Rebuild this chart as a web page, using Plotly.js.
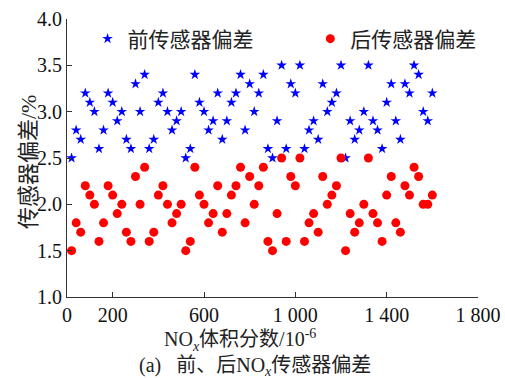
<!DOCTYPE html>
<html>
<head>
<meta charset="utf-8">
<script src="https://cdn.plot.ly/plotly-3.0.1.min.js"></script>
<style>html,body{margin:0;padding:0;background:#fff;}#chart{width:505px;height:378px;}</style>
</head>
<body>
<div id="chart"></div>
<script>
// NOx volume fraction (10^-6)
const noxFraction = [20,40,60,80,100,120,140,160,180,200,220,240,260,280,300,320,340,360,380,400,
  420,440,460,480,500,520,540,560,580,600,620,640,660,680,700,720,740,760,780,800,
  820,840,860,880,900,920,940,960,980,1000,1020,1040,1060,1080,1100,1120,1140,1160,1180,1200,
  1220,1240,1260,1280,1300,1320,1340,1360,1380,1400,1420,1440,1460,1480,1500,1520,1540,1560,1580,1600];
// 前传感器偏差 (%)
const frontBias = [2.5,2.8,2.7,3.2,3.1,3.0,2.6,2.8,3.2,3.1,2.9,3.0,2.7,2.6,3.3,3.0,3.4,2.6,2.7,3.1,
  3.2,3.0,2.8,2.9,3.0,2.5,2.6,3.4,3.1,3.0,2.8,2.9,3.2,2.7,2.9,3.1,3.2,3.4,2.8,3.3,
  3.0,3.2,3.4,2.6,2.5,2.9,3.5,2.6,3.3,3.2,3.5,2.6,2.8,2.9,2.7,3.3,3.0,3.1,3.2,3.5,
  2.5,2.9,2.7,2.8,3.0,3.5,2.9,2.8,2.6,3.1,3.3,2.9,2.7,3.3,3.2,3.5,3.4,3.0,2.9,3.2];
// 后传感器偏差 (%)
const rearBias = [1.5,1.8,1.7,2.2,2.1,2.0,1.6,1.8,2.2,2.1,1.9,2.0,1.7,1.6,2.3,2.0,2.4,1.6,1.7,2.1,
  2.2,2.0,1.8,1.9,2.0,1.5,1.6,2.4,2.1,2.0,1.8,1.9,2.2,1.7,1.9,2.1,2.2,2.4,1.8,2.3,
  2.0,2.2,2.4,1.6,1.5,1.9,2.5,1.6,2.3,2.2,2.5,1.6,1.8,1.9,1.7,2.3,2.0,2.1,2.2,2.5,
  1.5,1.9,1.7,1.8,2.0,2.5,1.9,1.8,1.6,2.1,2.3,1.8,1.7,2.2,2.1,2.4,2.3,2.0,2.0,2.1];
const xTickVals = [0,200,600,1000,1400,1800];
const xTickText = ['0','200','600','1 000','1 400','1 800'];
const yTickVals = [1.0,1.5,2.0,2.5,3.0,3.5,4.0];
const yTickText = ['1.0','1.5','2.0','2.5','3.0','3.5','4.0'];

const FONT = '"Liberation Serif", "Times New Roman", "Noto Sans CJK SC", serif';
const TXT = '#222';

const traces = [
  {x: noxFraction, y: frontBias, type: 'scatter', mode: 'markers', name: '前传感器偏差',
   marker: {symbol: 'star', size: 8, color: '#0000ff', line: {width: 0}}, legend: 'legend', cliponaxis: false},
  {x: noxFraction, y: rearBias, type: 'scatter', mode: 'markers', name: '后传感器偏差',
   marker: {symbol: 'circle', size: 9, color: '#ff0000', line: {width: 0}}, legend: 'legend2', cliponaxis: false}
];

const layout = {
  width: 505, height: 378,
  margin: {l: 67, r: 27, t: 19, b: 81},
  paper_bgcolor: '#fff', plot_bgcolor: '#fff',
  font: {family: FONT, size: 20, color: TXT},
  showlegend: true,
  legend: {orientation: 'h', x: 0.05, xanchor: 'left', y: 0.928, yanchor: 'middle',
    bgcolor: 'rgba(0,0,0,0)', font: {family: FONT, size: 21, color: TXT}},
  legend2: {orientation: 'h', x: 0.592, xanchor: 'left', y: 0.928, yanchor: 'middle',
    bgcolor: 'rgba(0,0,0,0)', font: {family: FONT, size: 21, color: TXT}},
  xaxis: {range: [0, 1800], tickvals: xTickVals, ticktext: xTickText,
    ticks: 'inside', ticklen: 5, tickcolor: '#333', showline: true, linecolor: '#333', linewidth: 1,
    showgrid: false, zeroline: false, tickfont: {family: FONT, size: 20, color: '#111'}},
  yaxis: {range: [1.0, 4.0], tickvals: yTickVals, ticktext: yTickText,
    ticks: 'inside', ticklen: 5, tickcolor: '#333', showline: true, linecolor: '#333', linewidth: 1,
    showgrid: false, zeroline: false, tickfont: {family: FONT, size: 20, color: '#111'}},
  annotations: [
    {xref: 'paper', yref: 'paper', x: (28 - 67) / 411, y: 1 - (162 - 19) / 278, xanchor: 'center', yanchor: 'middle',
     textangle: -90, showarrow: false, text: '传感器偏差/%', font: {family: FONT, size: 22, color: TXT}},
    {xref: 'paper', yref: 'paper', x: (240 - 67) / 411, y: -(340 - 297) / 278, xanchor: 'center', yanchor: 'middle',
     showarrow: false, text: 'NO<sub><i>x</i></sub>体积分数/10<sup>-6</sup>', font: {family: FONT, size: 20, color: TXT}},
    {xref: 'paper', yref: 'paper', x: (255 - 67) / 411, y: -(366 - 297) / 278, xanchor: 'center', yanchor: 'middle',
     showarrow: false, text: '(a)\u00a0\u00a0\u00a0前、后NO<sub><i>x</i></sub>传感器偏差', font: {family: FONT, size: 20, color: TXT}}
  ]
};

Plotly.newPlot('chart', traces, layout, {staticPlot: true, displayModeBar: false});
</script>
</body>
</html>
